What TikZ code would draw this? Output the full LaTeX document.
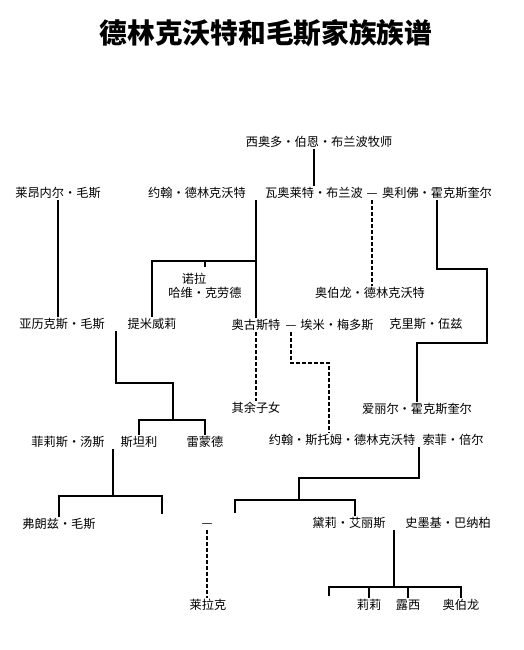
\documentclass[tikz,border=0pt]{standalone}
\usepackage{fontspec}
\newfontfamily\cjk{Noto Sans CJK SC}
\usetikzlibrary{calc}

\begin{document}
\begin{tikzpicture}[x=1pt,y=-1pt,
 person/.style={font=\cjk\fontsize{12.2}{14}\selectfont,inner sep=1pt,text height=10.5pt,text depth=1.5pt},
 line/.style={line width=2.2pt},
 dline/.style={line width=2.2pt,dash pattern=on 4pt off 2pt}]
 \useasboundingbox (0,0) rectangle (523,650);
 \node[font=\cjk\bfseries\fontsize{27.7}{30}\selectfont] (title) at (266,33) {德林克沃特和毛斯家族族谱};
 % generation 1 and 2
 \node[person] (theo) at (319,142) {西奥多・伯恩・布兰波牧师};
 \node[person] (lionel) at (58,193) {莱昂内尔・毛斯};
 \node[person] (john) at (197,193) {约翰・德林克沃特};
 \node[person] (violet) at (314,193) {瓦奥莱特・布兰波};
 \node[person] (m1) at (372,193) {—};
 \node[person] (oliver) at (437,193) {奥利佛・霍克斯奎尔};
 \node[person] (nora) at (194,279) {诺拉};
 \node[person] (harvey) at (205,293) {哈维・克劳德};
 \node[person] (obe) at (370,293) {奥伯龙・德林克沃特};
 % generation 3
 \node[person] (alex) at (62,324) {亚历克斯・毛斯};
 \node[person] (timmy) at (152,324) {提米威莉};
 \node[person] (august) at (256,325) {奥古斯特};
 \node[person] (m2) at (291,325) {—};
 \node[person] (emmy) at (337,325) {埃米・梅多斯};
 \node[person] (chris) at (426,324) {克里斯・伍兹};
 \node[person] (rest) at (256,408) {其余子女};
 \node[person] (ariel) at (417,409) {爱丽尔・霍克斯奎尔};
 % generation 4
 \node[person] (phyllis) at (68,442) {菲莉斯・汤斯};
 \node[person] (stanley) at (139,442) {斯坦利};
 \node[person] (raymond) at (205,442) {雷蒙德};
 \node[person] (storm) at (342,440) {约翰・斯托姆・德林克沃特};
 \node[person] (sophie) at (453,440) {索菲・倍尔};
 % generation 5 and 6
 \node[person] (franz) at (59,524) {弗朗兹・毛斯};
 \node[person] (m3) at (207,523) {—};
 \node[person] (daisy) at (349,523) {黛莉・艾丽斯};
 \node[person] (smoky) at (448,523) {史墨基・巴纳柏};
 \node[person] (lilac) at (208,605) {莱拉克};
 \node[person] (lily) at (369,605) {莉莉};
 \node[person] (lucy) at (408,605) {露西};
 \node[person] (ob2) at (461,605) {奥伯龙};
 % corners
 \coordinate (b0) at (256,261);
 \coordinate (k1) at (173,383); \coordinate (b1) at (173,420);
 \coordinate (b2) at (113,496); \coordinate (u1) at (162,514);
 \coordinate (b3) at (299,478); \coordinate (b4) at (299,500); \coordinate (u2) at (235,513);
 \coordinate (b5) at (394,587); \coordinate (u3) at (329,596);
 \coordinate (k2) at (487,269); \coordinate (k3) at (487,343);
 \coordinate (k4) at (329,363);
 \coordinate (c1) at ($(alex.south east)!0.5!(timmy.south west)$);
 \coordinate (c2) at ($(phyllis.south east)!0.5!(stanley.south west)$);
 \coordinate (c3) at ($(storm.south east)!0.5!(sophie.south west)$);
 % solid lines
 \draw[line] (violet |- theo.south) -- (violet.north);
 \draw[line] (lionel.south) -- (lionel.south |- alex.north);
 \draw[line] (august |- john.south) -- (august.north);
 \draw[line] (b0) -| (timmy.north);
 \draw[line] (harvey |- b0) -- ++(0,6);
 \draw[line] (oliver.south) |- (k2) -- (k3) -| (ariel.north);
 \draw[line] (c1) |- (k1) -- (b1);
 \draw[line] (stanley.north) |- (b1) -| (raymond.north);
 \draw[line] (c2) -- (c2 |- b2);
 \draw[line] (franz.north) |- (u1 |- b2) -- (u1);
 \draw[line] (c3) |- (b3) -- (b4);
 \draw[line] (u2) |- (b4) -| ([xshift=6pt]daisy.north);
 \draw[line] (b5 |- daisy.south) -- (b5);
 \draw[line] (u3) |- (b5) -| (ob2.north);
 \draw[line] (lily.north) -- (lily |- b5);
 \draw[line] (lucy.north) -- (lucy |- b5);
 % dashed lines
 \draw[dline] (m1.south) -- (m1.south |- obe.north);
 \draw[dline] (august.south) -- (rest.north);
 \draw[dline] (m2.south) |- (k4) -- (k4 |- storm.north);
 \draw[dline] (m3.south) -- (m3.south |- lilac.north);
\end{tikzpicture}
\end{document}
